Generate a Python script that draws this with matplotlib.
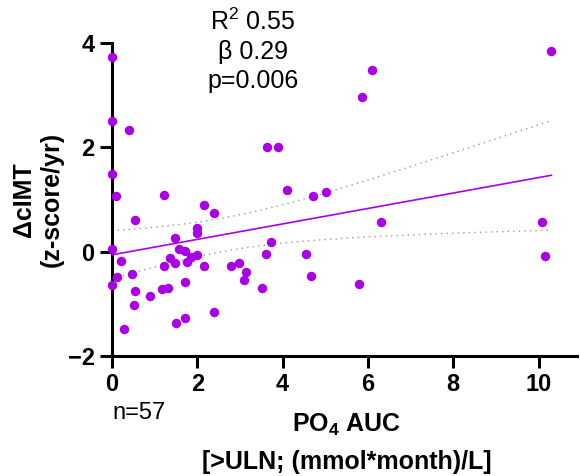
import numpy as np
import matplotlib
matplotlib.use("Agg")
import matplotlib.pyplot as plt

plt.rcParams['font.family'] = ['Liberation Sans', 'DejaVu Sans']
plt.rcParams['mathtext.fontset'] = 'custom'
plt.rcParams['mathtext.rm'] = 'Liberation Sans'
plt.rcParams['mathtext.bf'] = 'Liberation Sans:bold'
plt.rcParams['mathtext.default'] = 'regular'

# PO4 AUC vs change in cIMT
po4_auc = [0, 0, 0.4, 3.63, 3.89, 0, 0.09, 1.22, 4.1, 2.15,
           2.39, 0.54, 1.99, 1.99, 1.48, 1.57, 1.71, 0, 0.21, 1.36,
           1.48, 1.22, 1.76, 1.85, 1.99, 2.15, 2.79, 2.97, 3.13, 3.09,
           3.51, 3.61, 3.72, 0.12, 0, 0.47, 0.54, 0.89, 1.17, 1.31,
           1.71, 0.52, 1.71, 1.5, 2.39, 0.28, 4.71, 5.01, 6.3, 4.54,
           4.66, 5.78, 6.09, 5.85, 10.3, 10.09, 10.16]
d_cimt = [3.73, 2.5, 2.33, 2.0, 2.0, 1.48, 1.06, 1.08, 1.19, 0.9,
          0.75, 0.6, 0.46, 0.36, 0.27, 0.06, 0.02, 0.06, -0.17, -0.13,
          -0.22, -0.27, -0.19, -0.1, -0.06, -0.27, -0.27, -0.22, -0.39, -0.54,
          -0.69, -0.04, 0.19, -0.48, -0.63, -0.43, -0.75, -0.85, -0.71, -0.69,
          -0.58, -1.02, -1.27, -1.37, -1.15, -1.48, 1.06, 1.15, 0.56, -0.04,
          -0.47, -0.62, 3.48, 2.96, 3.85, 0.56, -0.08]

x_ticks = [0, 2, 4, 6, 8, 10]
y_ticks = [-2, 0, 2, 4]
stats_text = "R$^2$ 0.55\n\u03b2 0.29\np=0.006"
n_text = "n=57"

purple = '#AA00E6'

x = np.array(po4_auc)
y = np.array(d_cimt)

# linear fit with 95% confidence band
slope, intercept = np.polyfit(x, y, 1)
n = len(x)
resid = y - (slope * x + intercept)
s = np.sqrt(np.sum(resid ** 2) / (n - 2))
sxx = np.sum((x - x.mean()) ** 2)
t_crit = 2.004  # t(0.975, df=55)
xs = np.linspace(x.min(), x.max(), 200)
fit = slope * xs + intercept
half = t_crit * s * np.sqrt(1 / n + (xs - x.mean()) ** 2 / sxx)

fig = plt.figure(figsize=(5.8, 4.76), dpi=100)
ax = fig.add_axes([112 / 580, 120 / 476, 465 / 580, 313 / 476])

ax.plot(xs, fit, color=purple, lw=1.2, zorder=3)
ax.plot(xs, fit + half, color='#999999', lw=1.0, ls=(0, (1, 3)), zorder=2)
ax.plot(xs, fit - half, color='#999999', lw=1.0, ls=(0, (1, 3)), zorder=2)
ax.plot(x, y, 'o', color=purple, markersize=6.8, markeredgewidth=0,
        clip_on=False, zorder=5)

ax.set_xlim(0, 10.9)
ax.set_ylim(-2, 4)
ax.set_xticks(x_ticks)
ax.set_yticks(y_ticks)

for side in ['top', 'right']:
    ax.spines[side].set_visible(False)
for side in ['left', 'bottom']:
    ax.spines[side].set_linewidth(2.2)
ax.tick_params(width=2.2, length=8.5, labelsize=17, pad=4)
for lab in ax.get_xticklabels() + ax.get_yticklabels():
    lab.set_fontweight('bold')

ax.set_ylabel("\u0394cIMT\n(z-score/yr)", fontsize=18, fontweight='bold',
              labelpad=3, linespacing=1.2)

fig.text(347 / 580, 1 - 425 / 476, "PO$_\\mathbf{4}$ AUC", fontsize=18,
         fontweight='bold', ha='center', va='center')
fig.text(347 / 580, 1 - 462 / 476, "[>ULN; (mmol*month)/L]", fontsize=18,
         fontweight='bold', ha='center', va='center')
fig.text(139 / 580, 1 - 413 / 476, n_text, fontsize=17, ha='center', va='center')
fig.text(253 / 580, 1 - 51 / 476, stats_text, fontsize=18, ha='center',
         va='center', linespacing=1.25)

fig.savefig("out.png", dpi=100)
